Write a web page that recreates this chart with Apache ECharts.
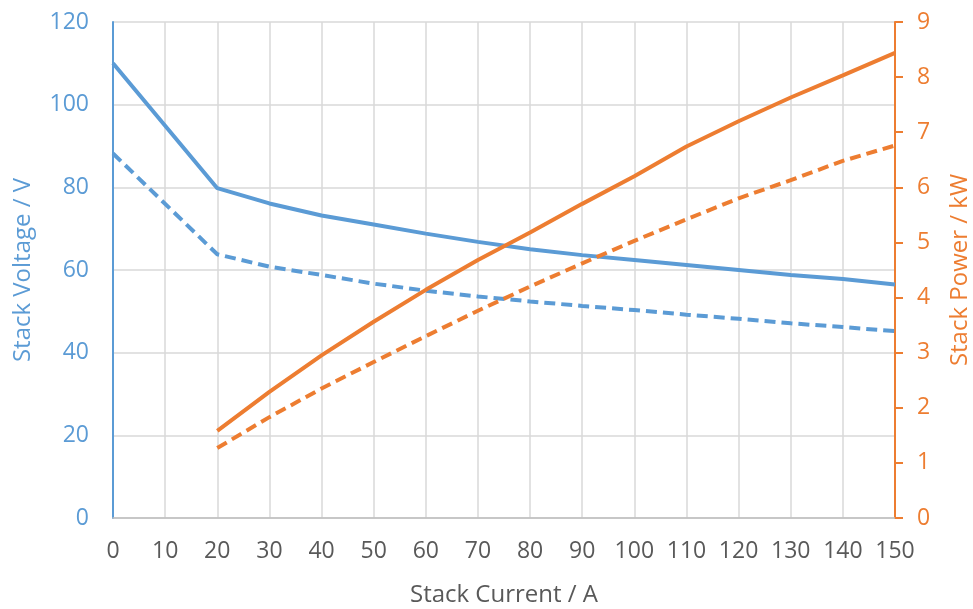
<!DOCTYPE html>
<html>
<head>
<meta charset="utf-8">
<script src="https://cdn.jsdelivr.net/npm/echarts@6/dist/echarts.min.js"></script>
<style>
	html, body { margin: 0; padding: 0; background: #fff; }
	#chart { width: 973px; height: 609px; }
</style>
</head>
<body>
<div id="chart"></div>
<script>
var current = [0, 20, 30, 40, 50, 60, 70, 80, 90, 100, 110, 120, 130, 140, 150];
var voltageSolid = [110, 79.8, 76.1, 73.2, 71, 68.8, 66.8, 65, 63.6, 62.4, 61.2, 60, 58.8, 57.8, 56.5];
var voltageDashed = [88.2, 63.8, 60.8, 58.8, 56.7, 55, 53.6, 52.4, 51.3, 50.3, 49.2, 48.2, 47.1, 46.2, 45.2];
var powerCurrent = [20, 30, 40, 50, 60, 70, 80, 90, 100, 110, 120, 130, 140, 150];
var powerSolid = [1.58, 2.29, 2.95, 3.56, 4.14, 4.68, 5.18, 5.7, 6.2, 6.74, 7.2, 7.63, 8.03, 8.44];
var powerDashed = [1.27, 1.83, 2.35, 2.83, 3.3, 3.76, 4.2, 4.62, 5.03, 5.42, 5.8, 6.13, 6.48, 6.76];

function pairs(xs, ys) {
	return xs.map(function (x, i) { return [x, ys[i]]; });
}

var blue = '#5B9BD5';
var orange = '#ED7D31';
var font = '"Open Sans", sans-serif';

var myChart = echarts.init(document.getElementById('chart'));
var option = {
	animation: false,
	grid: {
		left: 113,
		right: 78,
		top: 22,
		bottom: 91,
		outerBoundsMode: 'none'
	},
	xAxis: {
		type: 'value',
		min: 0,
		max: 150,
		interval: 10,
		name: 'Stack Current / A',
		nameLocation: 'middle',
		nameGap: 65,
		nameTextStyle: { color: '#595959', fontSize: 24, fontFamily: font },
		axisLine: { lineStyle: { color: '#bfbfbf', width: 1.5 } },
		axisTick: { show: false },
		axisLabel: { color: '#595959', fontSize: 23, fontFamily: font, margin: 22 },
		splitLine: { lineStyle: { color: '#d9d9d9', width: 1.5 } }
	},
	yAxis: [{
		type: 'value',
		min: 0,
		max: 120,
		interval: 20,
		name: 'Stack Voltage / V',
		nameLocation: 'middle',
		nameRotate: 90,
		nameGap: 78,
		nameTextStyle: { color: blue, fontSize: 24, fontFamily: font },
		axisLine: { show: true, lineStyle: { color: blue, width: 2 } },
		axisTick: { show: false },
		axisLabel: { color: blue, fontSize: 23, fontFamily: font, margin: 24 },
		splitLine: { lineStyle: { color: '#d9d9d9', width: 1.5 } }
	}, {
		type: 'value',
		min: 0,
		max: 9,
		interval: 1,
		position: 'right',
		name: 'Stack Power / kW',
		nameLocation: 'middle',
		nameRotate: 90,
		nameGap: 53,
		nameTextStyle: { color: orange, fontSize: 24, fontFamily: font },
		axisLine: { show: true, lineStyle: { color: orange, width: 2 } },
		axisTick: { show: true, length: 8, lineStyle: { color: orange, width: 2 } },
		axisLabel: { color: orange, fontSize: 23, fontFamily: font, margin: 22 },
		splitLine: { show: false }
	}],
	series: [{
		name: 'Voltage',
		type: 'line',
		yAxisIndex: 0,
		showSymbol: false,
		data: pairs(current, voltageSolid),
		lineStyle: { color: blue, width: 4 }
	}, {
		name: 'Voltage (dashed)',
		type: 'line',
		yAxisIndex: 0,
		showSymbol: false,
		data: pairs(current, voltageDashed),
		lineStyle: { color: blue, width: 4, type: [11, 6] }
	}, {
		name: 'Power',
		type: 'line',
		yAxisIndex: 1,
		showSymbol: false,
		data: pairs(powerCurrent, powerSolid),
		lineStyle: { color: orange, width: 4 }
	}, {
		name: 'Power (dashed)',
		type: 'line',
		yAxisIndex: 1,
		showSymbol: false,
		data: pairs(powerCurrent, powerDashed),
		lineStyle: { color: orange, width: 4, type: [11, 6] }
	}]
};
myChart.setOption(option);
</script>
</body>
</html>
